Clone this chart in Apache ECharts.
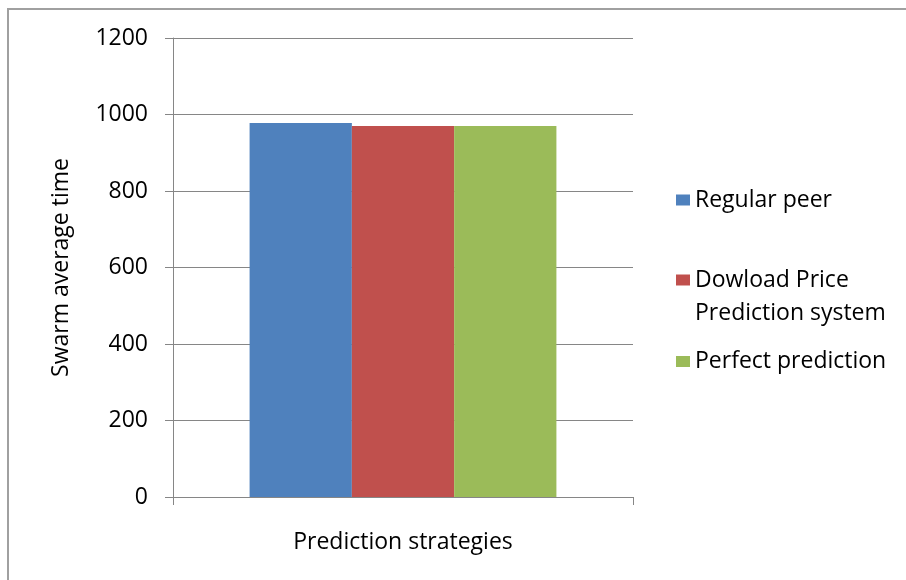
<!DOCTYPE html>
<html>
<head>
<meta charset="utf-8">
<script src="https://cdn.jsdelivr.net/npm/echarts@6/dist/echarts.min.js"></script>
<style>
  html, body { margin: 0; padding: 0; background: #fff; }
  #chart { width: 906px; height: 580px; }
</style>
</head>
<body>
<div id="chart"></div>
<script>
// 数据
var categories = [''];
var seriesNames = ['Regular peer', 'Dowload Price Prediction system', 'Perfect prediction'];
var seriesValues = [[978], [970], [970]];
var colorArr = ['#4f81bd', '#c0504d', '#9bbb59'];
var yTicks = { min: 0, max: 1200, interval: 200 };

var fontName = 'Open Sans';
var gray = '#868686';

var chart = echarts.init(document.getElementById('chart'));

// 每个图例单独放, 间距不一样
function makeLegend(name, top, formatter) {
    var lg = {
        data: [name],
        left: 676,
        top: top,
        orient: 'vertical',
        padding: 0,
        itemWidth: 14,
        itemHeight: 11,
        itemGap: 0,
        icon: 'rect',
        selectedMode: false,
        textStyle: {
            fontFamily: fontName,
            fontSize: 23,
            color: '#000',
            lineHeight: 33
        }
    };
    if (formatter) {
        lg.formatter = formatter;
    }
    return lg;
}

var option = {
    animation: false,
    color: colorArr,
    graphic: [{
        type: 'rect',
        shape: { x: 8, y: 9, width: 1200, height: 1200 },
        style: { fill: 'none', stroke: '#a0a0a0', lineWidth: 2 },
        silent: true
    }],
    legend: [
        makeLegend(seriesNames[0], 183.5),
        // 空的第一行, 让图标对齐第一行文字
        makeLegend(seriesNames[1], 230.5, function () {
            return ' \nDowload Price\nPrediction system';
        }),
        makeLegend(seriesNames[2], 345)
    ],
    grid: {
        left: 173,
        right: 273,
        top: 38,
        bottom: 83
    },
    xAxis: {
        type: 'category',
        data: categories,
        name: 'Prediction strategies',
        nameLocation: 'middle',
        nameGap: 34,
        nameTextStyle: { fontFamily: fontName, fontSize: 23, color: '#000' },
        axisLine: { lineStyle: { color: gray, width: 1 } },
        axisTick: { show: true, length: 8, lineStyle: { color: gray } },
        axisLabel: { show: false },
        splitLine: { show: false }
    },
    yAxis: {
        type: 'value',
        min: yTicks.min,
        max: yTicks.max,
        interval: yTicks.interval,
        name: 'Swarm average time',
        nameLocation: 'middle',
        nameGap: 100,
        nameTextStyle: { fontFamily: fontName, fontSize: 23, color: '#000' },
        axisLine: { show: true, lineStyle: { color: gray, width: 1 } },
        axisTick: { show: true, length: 8, lineStyle: { color: gray } },
        axisLabel: {
            fontFamily: fontName, fontSize: 23, color: '#000', margin: 25,
            formatter: function (v) { return String(v); }
        },
        splitLine: { show: true, lineStyle: { color: gray, width: 1 } }
    },
    series: seriesNames.map(function (name, i) {
        return {
            name: name,
            type: 'bar',
            data: seriesValues[i],
            barGap: '0%',
            barCategoryGap: '33.3%',
            itemStyle: { color: colorArr[i] }
        };
    })
};

chart.setOption(option);
</script>
</body>
</html>
